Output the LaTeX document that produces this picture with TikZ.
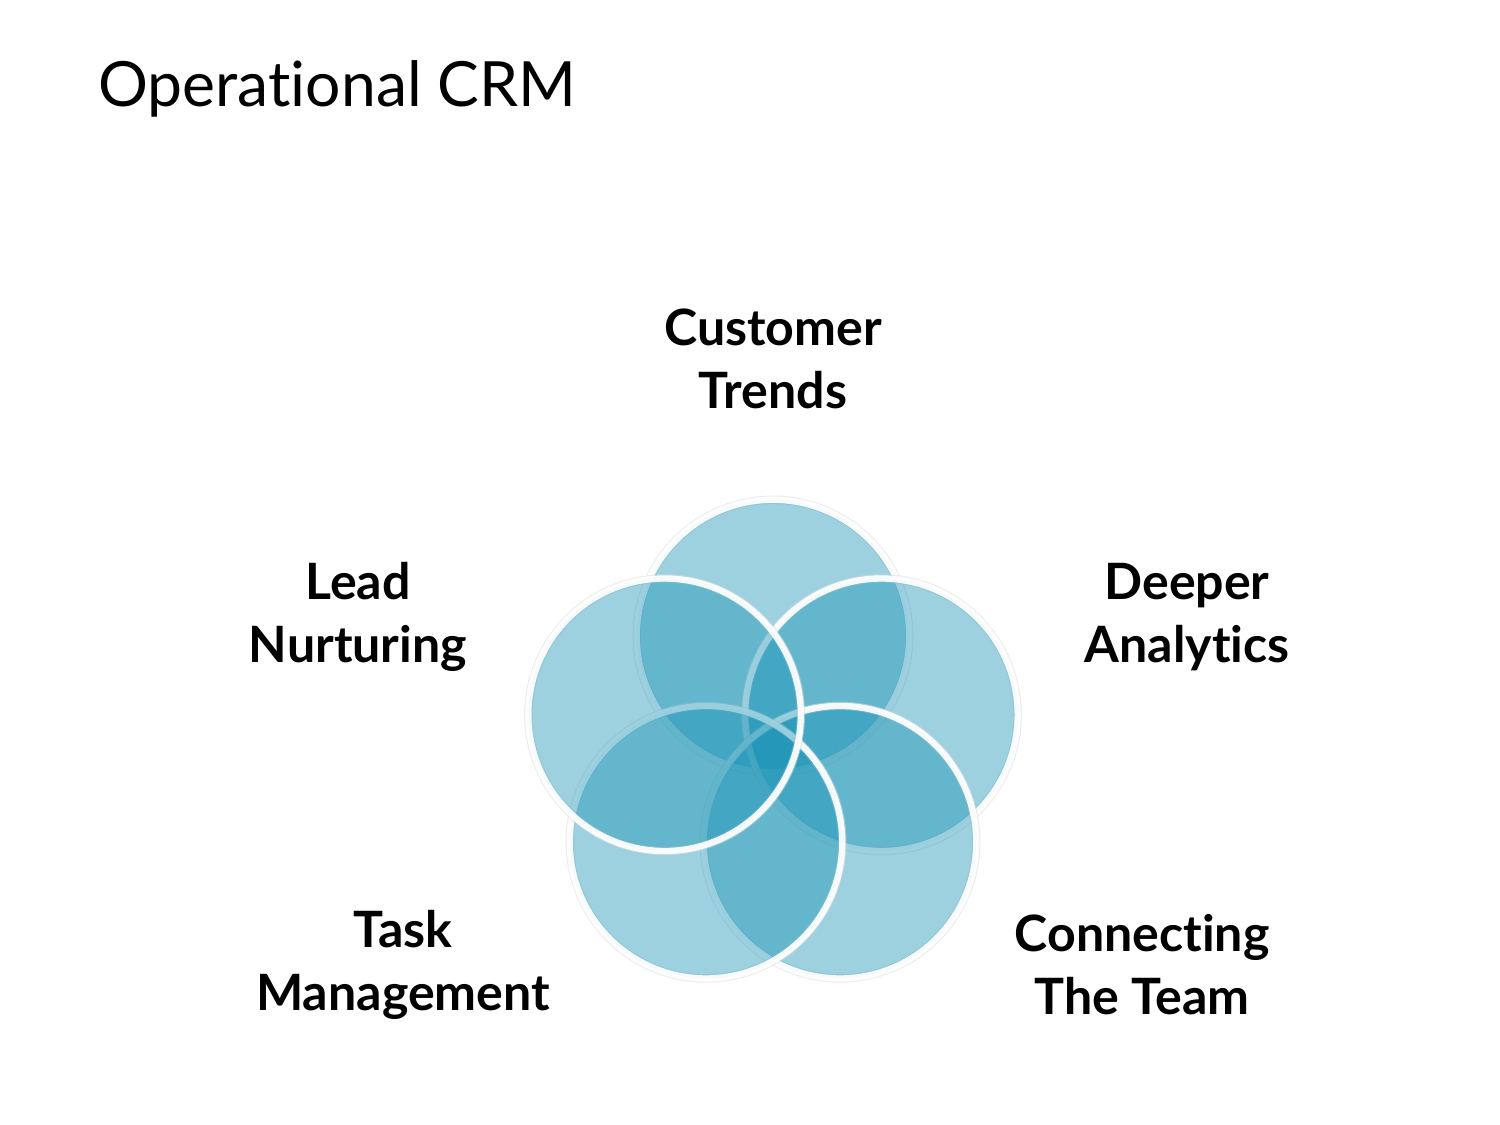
\documentclass[tikz,border=0pt]{standalone}
\usepackage{fontspec}
\setmainfont{Lato}[Ligatures={NoCommon}]
\usepackage{tikz}

\definecolor{petalblue}{RGB}{23,146,181}

\begin{document}
\begin{tikzpicture}[
    petal/.style={
        circle,minimum size=5.45cm,inner sep=0pt,
        fill=petalblue,fill opacity=0.42,
        draw=white,draw opacity=0.92,line width=3.6pt,
        preaction={draw=black!14,draw opacity=0.5,line width=4.8pt,fill=none}
    },
    label/.style={
        align=center,font=\fontsize{28.5}{36}\selectfont\bfseries
    }
]
\useasboundingbox[fill=white] (0,0) rectangle (30,22.5);

% title
\node[anchor=base west,inner sep=0pt,font=\fontsize{35.5}{42}\selectfont] (title) at (1.96,20.36) {Operational CRM};

% circles
\coordinate (mid) at (15.46,7.5);
\node[petal] (c1) at ([shift={(90:2.28)}]mid) {};
\node[petal] (c2) at ([shift={(18:2.28)}]mid) {};
\node[petal] (c3) at ([shift={(-54:2.28)}]mid) {};
\node[petal] (c4) at ([shift={(-126:2.28)}]mid) {};
\node[petal] (c5) at ([shift={(162:2.28)}]mid) {};

% labels
\node[label] (trends) at (15.46,15.32) {Customer\\Trends};
\node[label] (deeper) at (23.74,10.16) {Deeper\\Analytics};
\node[label] (team) at (22.84,3.2) {Connecting\\The Team};
\node[label] (task) at (8.06,3.2) {Task\\Management};
\node[label] (lead) at (7.16,10.16) {Lead\\Nurturing};
\end{tikzpicture}
\end{document}
